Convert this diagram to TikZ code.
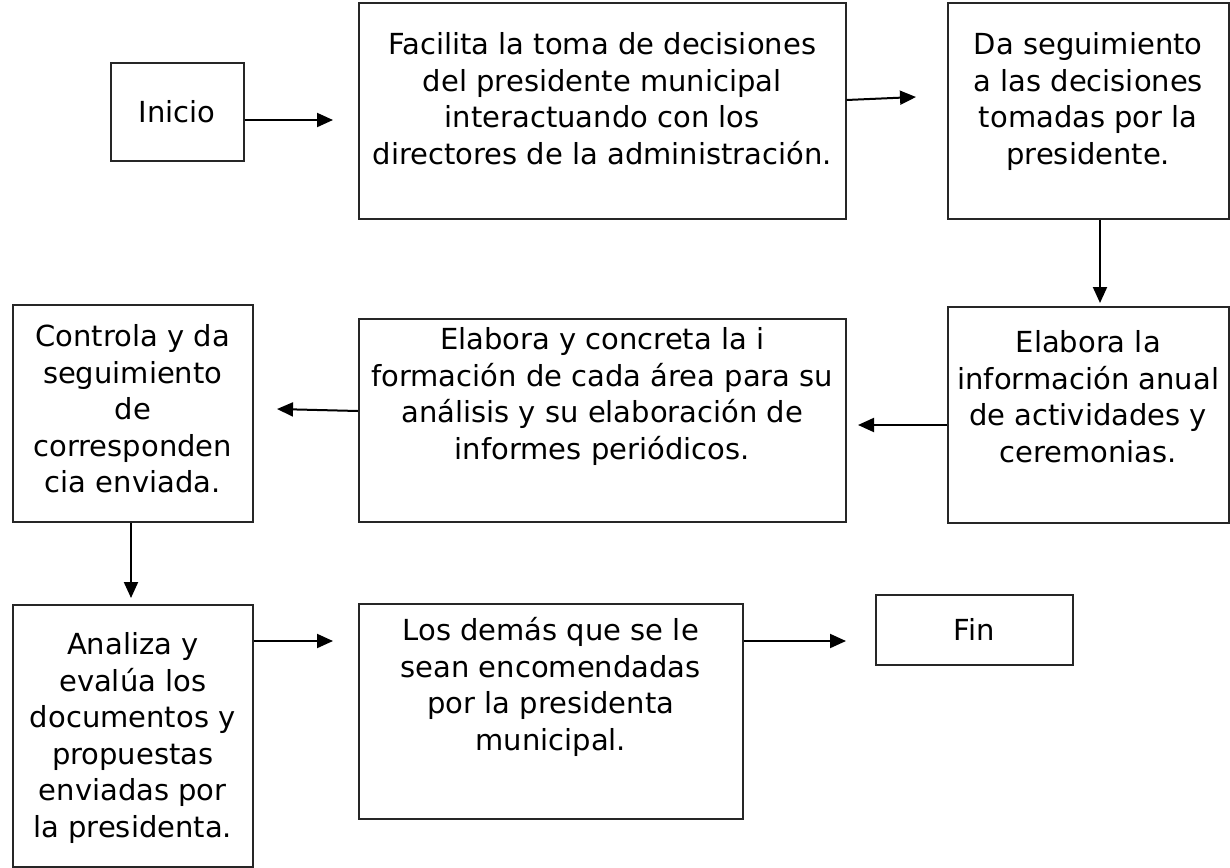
\documentclass[tikz,border=0pt]{standalone}
\usepackage{fontspec}
\setmainfont{DejaVu Sans}
\usetikzlibrary{arrows.meta}
\begin{document}
\begin{tikzpicture}[x=0.5pt,y=-0.5pt,
  box/.style={draw=black!85, line width=0.75pt, inner sep=0pt, anchor=north west},
  txt/.style={align=center, font=\fontsize{14.5}{18.3}\selectfont, inner sep=0pt, anchor=north},
  arr/.style={line width=1pt, -{Triangle[length=8pt,width=7pt]}}]
\useasboundingbox (0,0) rectangle (1230,867);
% boxes
\node[box, minimum width=66.5pt,  minimum height=49pt, font=\fontsize{14.5}{18.3}\selectfont] (b1) at (110,62) {Inicio};
\node[box, minimum width=243.5pt, minimum height=108pt] (b2) at (358,2) {};
\node[box, minimum width=140.5pt, minimum height=108pt] (b3) at (947,2) {};
\node[box, minimum width=140.5pt, minimum height=108pt] (b4) at (947,306) {};
\node[box, minimum width=243.5pt, minimum height=101.5pt] (b5) at (358,318) {};
\node[box, minimum width=120pt, minimum height=108.5pt] (b6) at (12,304) {};
\node[box, minimum width=120pt, minimum height=131pt] (b7) at (12,604) {};
\node[box, minimum width=192pt, minimum height=107.5pt] (b8) at (358,603) {};
\node[box, minimum width=98.5pt, minimum height=35pt, font=\fontsize{14.5}{18.3}\selectfont] (b9) at (875,594) {Fin};
% texts
\node[txt] (t2) at ([yshift=-15pt]b2.north) {Facilita la toma de decisiones\\del presidente municipal\\interactuando con los\\directores de la administración.};
\node[txt] (t3) at ([yshift=-15pt]b3.north) {Da seguimiento\\a las decisiones\\tomadas por la\\presidente.};
\node[txt] (t4) at ([yshift=-12pt]b4.north) {Elabora la\\información anual\\de actividades y\\ceremonias.};
\node[txt] (t5) at ([yshift=-4.5pt]b5.north) {Elabora y concreta la i\\formación de cada área para su\\análisis y su elaboración de\\informes periódicos.};
\node[txt] (t6) at ([yshift=-10pt]b6.north) {Controla y da\\seguimiento\\de\\corresponden\\cia enviada.};
\node[txt] (t7) at ([yshift=-14pt]b7.north) {Analiza y\\evalúa los\\documentos y\\propuestas\\enviadas por\\la presidenta.};
\node[txt] (t8) at ([yshift=-7pt]b8.north) {Los demás que se le\\sean encomendadas\\por la presidenta\\municipal.};
% arrow ends
\coordinate (e1) at (333,120);
\coordinate (s2) at (0,100);
\coordinate (e2) at (916,97);
\coordinate (e3) at (1100,303);
\coordinate (s4) at (0,425);
\coordinate (e4) at (858,425);
\coordinate (s5) at (0,411);
\coordinate (e5) at (277,409);
\coordinate (e6) at (131,598);
\coordinate (s7) at (0,641);
\coordinate (e7) at (333,641);
\coordinate (e8) at (846,641);
% connectors
\draw[arr] (b1.east |- e1) -- (e1);
\draw[arr] (b2.east |- s2) -- (e2);
\draw[arr] (b3.south -| e3) -- (e3);
\draw[arr] (b4.west |- s4) -- (e4);
\draw[arr] (b5.west |- s5) -- (e5);
\draw[arr] (b6.south -| e6) -- (e6);
\draw[arr] (b7.east |- s7) -- (e7);
\draw[arr] (b8.east |- e8) -- (e8);
\end{tikzpicture}
\end{document}
